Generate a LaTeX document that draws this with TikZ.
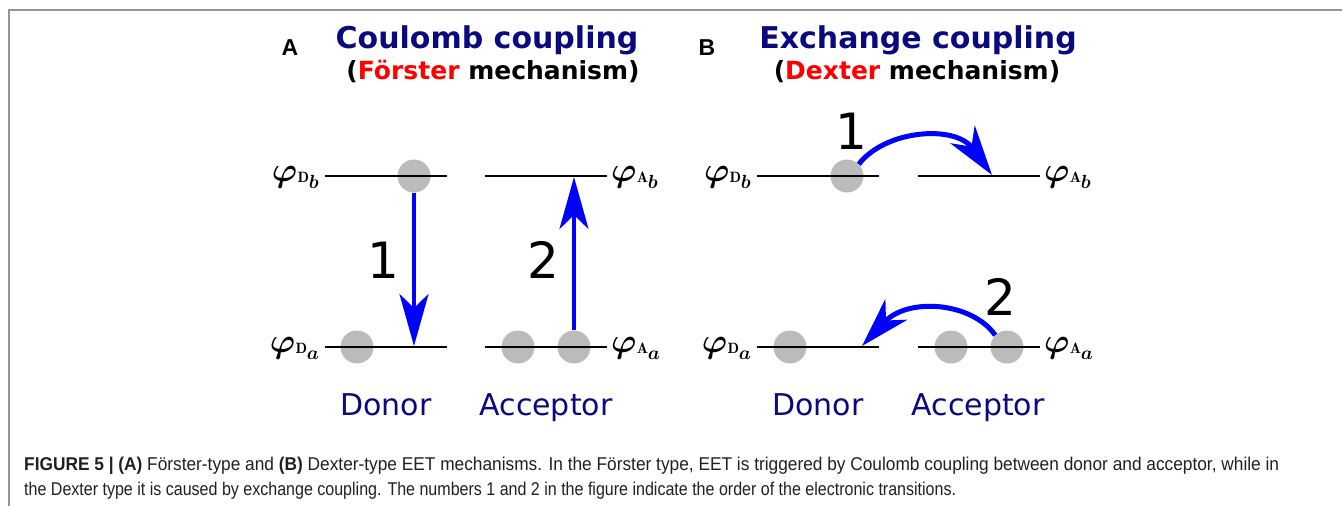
\documentclass[tikz,border=0pt]{standalone}
\usepackage{fontspec}
\usepackage{bm}
\usepackage{graphicx}
\usetikzlibrary{arrows.meta}
\setsansfont{DejaVu Sans}
\newfontfamily\capfont{Liberation Sans}
\newfontfamily\lblfont{Liberation Sans}
\definecolor{navyc}{RGB}{10,10,128}
\definecolor{redc}{RGB}{255,0,0}
\definecolor{bluec}{RGB}{0,0,255}
\definecolor{elecgray}{RGB}{187,187,187}
\definecolor{framegray}{RGB}{150,150,150}
\definecolor{captext}{RGB}{35,31,32}
\newcommand{\enlabel}[2]{\scalebox{3.4}{$\bm{\varphi}$}\kern0.3pt\raisebox{-1pt}{\scalebox{1.5}{$\mathbf{#1}$}}\kern-0.3pt\raisebox{-7pt}{\scalebox{1.9}{$\bm{#2}$}}}
\begin{document}
\begin{tikzpicture}[x=1pt,y=-1pt,
  enline/.style={line width=2.6pt, black},
  elec/.style={circle, fill=elecgray, minimum size=33pt, inner sep=0pt},
  vtrans/.style={draw=bluec, line width=4pt, -{Stealth[length=52pt,width=29pt,inset=14pt]}},
  ctrans/.style={draw=bluec, line width=5pt, -{Stealth[length=50pt,width=30pt,inset=15pt]}},
  numlbl/.style={font=\sffamily\fontsize{50}{50}\selectfont, inner sep=0pt},
  phil/.style={font=\fontsize{10}{10}\selectfont, inner sep=0pt},
  title/.style={font=\sffamily\bfseries\fontsize{30}{30}\selectfont, text=navyc, inner sep=0pt},
  subtitle/.style={font=\sffamily\bfseries\fontsize{25}{25}\selectfont, inner sep=0pt},
  panel/.style={font=\lblfont\bfseries\fontsize{23}{23}\selectfont, inner sep=0pt},
  role/.style={font=\sffamily\fontsize{30}{30}\selectfont, text=navyc, inner sep=0pt, anchor=base},
  capline/.style={font=\capfont\fontsize{18.5}{18.5}\selectfont, text=captext, inner sep=0pt, anchor=base west}
]
\useasboundingbox (0,0) rectangle (1342,506);
% frame
\draw[framegray, line width=1.2pt] (9,506) -- (9,10) -- (1342,10);

% titles
\node[panel] (pA) at (290,48) {A};
\node[title] (tA) at (487,40) {Coulomb coupling};
\node[subtitle] (sA) at (493,71) {(\textcolor{redc}{Förster} mechanism)};
\node[panel] (pB) at (707,48) {B};
\node[title] (tB) at (918,40) {Exchange coupling};
\node[subtitle] (sB) at (917,72) {(\textcolor{redc}{Dexter} mechanism)};

% ---------- Panel A ----------
\node[elec] (aDb) at (414,176) {};
\node[elec] (aDa) at (357,347) {};
\node[elec] (aAa1) at (518,347) {};
\node[elec] (aAa2) at (574,347) {};
\coordinate (aDbL) at (325,176); \coordinate (aDbR) at (447,176);
\coordinate (aAbL) at (485,176); \coordinate (aAbR) at (607,176);
\coordinate (aDaL) at (325,347); \coordinate (aDaR) at (447,347);
\coordinate (aAaL) at (485,347); \coordinate (aAaR) at (607,347);
\draw[enline] (aDbL) -- (aDbR);
\draw[enline] (aAbL) -- (aAbR);
\draw[enline] (aDaL) -- (aDaR);
\draw[enline] (aAaL) -- (aAaR);
\node[phil, anchor=base east] (aLDb) at (319,181) {\enlabel{D}{b}};
\node[phil, anchor=base west] (aLAb) at (611,181) {\enlabel{A}{b}};
\node[phil, anchor=base east] (aLDa) at (319,352) {\enlabel{D}{a}};
\node[phil, anchor=base west] (aLAa) at (611,352) {\enlabel{A}{a}};
\coordinate (aT1) at (414,346);
\coordinate (aT2) at (574,177);
\draw[vtrans] (aDb.south) -- (aT1);
\draw[vtrans] (aAa2.north) -- (aT2);
\node[numlbl] (aN1) at (383,260) {1};
\node[numlbl] (aN2) at (543,260) {2};
\node[role] (aDon) at (386,415) {Donor};
\node[role] (aAcc) at (546,415) {Acceptor};

% ---------- Panel B ----------
\node[elec] (bDb) at (847,176) {};
\node[elec] (bDa) at (790,347) {};
\node[elec] (bAa1) at (951,347) {};
\node[elec] (bAa2) at (1007,347) {};
\coordinate (bDbL) at (757,176); \coordinate (bDbR) at (879,176);
\coordinate (bAbL) at (918,176); \coordinate (bAbR) at (1040,176);
\coordinate (bDaL) at (757,347); \coordinate (bDaR) at (879,347);
\coordinate (bAaL) at (918,347); \coordinate (bAaR) at (1040,347);
\draw[enline] (bDbL) -- (bDbR);
\draw[enline] (bAbL) -- (bAbR);
\draw[enline] (bDaL) -- (bDaR);
\draw[enline] (bAaL) -- (bAaR);
\node[phil, anchor=base east] (bLDb) at (751,181) {\enlabel{D}{b}};
\node[phil, anchor=base west] (bLAb) at (1044,181) {\enlabel{A}{b}};
\node[phil, anchor=base east] (bLDa) at (751,352) {\enlabel{D}{a}};
\node[phil, anchor=base west] (bLAa) at (1044,352) {\enlabel{A}{a}};
\coordinate (bT1) at (992,175);
\coordinate (bT2) at (862,346);
\draw[ctrans] (bDb.45) .. controls (885,130) and (955,124) .. (bT1);
\draw[ctrans] (bAa2.135) .. controls (972,302) and (908,297) .. (bT2);
\node[numlbl] (bN1) at (851,131) {1};
\node[numlbl] (bN2) at (1000,297) {2};
\node[role] (bDon) at (818,415) {Donor};
\node[role] (bAcc) at (978,415) {Acceptor};

% ---------- caption ----------
\node[capline] (cap1) at (24,470) {\resizebox{1255pt}{\height}{\textbf{FIGURE 5 | (A)} Förster-type and \textbf{(B)} Dexter-type EET mechanisms. In the Förster type, EET is triggered by Coulomb coupling between donor and acceptor, while in}};
\node[capline] (cap2) at (24,495) {\resizebox{932pt}{\height}{the Dexter type it is caused by exchange coupling. The numbers 1 and 2 in the figure indicate the order of the electronic transitions.}};
\end{tikzpicture}
\end{document}
